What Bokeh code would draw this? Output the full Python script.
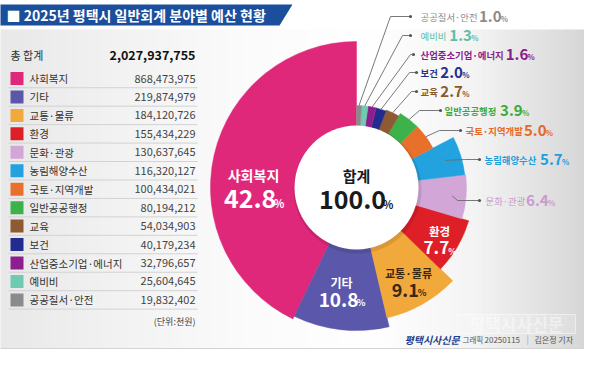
import math
import numpy as np
from bokeh.plotting import figure
from bokeh.models import Range1d, ColumnDataSource
from bokeh.core.properties import value
from bokeh.embed import file_html
from bokeh.resources import INLINE

# ---------------- data ----------------
title = "■  2025년 평택시 일반회계 분야별 예산 현황"
total_label = "총 합계"
total_amount = 2027937755
categories = ["사회복지", "기타", "교통·물류", "환경", "문화·관광", "농림해양수산",
              "국토·지역개발", "일반공공행정", "교육", "보건", "산업중소기업·에너지",
              "예비비", "공공질서·안전"]
amounts = [868473975, 219874979, 184120726, 155434229, 130637645, 116320127,
           100434021, 80194212, 54034903, 40179234, 32796657, 25604645, 19832402]
shares = [42.8, 10.8, 9.1, 7.7, 6.4, 5.7, 5.0, 3.9, 2.7, 2.0, 1.6, 1.3, 1.0]
unit_note = "(단위:천원)"
center_title = "합계"
center_value = "100.0"
credit_paper = "평택시사신문"
credit_parts = ["그래픽", "20250115", "|", "김은정 기자"]

# ---------------- style ----------------
colors = ["#e0287a", "#5b58ab", "#f2a93c", "#df1f27", "#d2a6d6", "#22a2de",
          "#e8702a", "#3db14a", "#8e5a33", "#212c8e", "#8d1e8e", "#6fcab2", "#8b8b8b"]
label_colors = ["#e0287a", "#5b58ab", "#f2a93c", "#df1f27", "#c89ccc", "#1f9fdc",
                "#e4692a", "#3aab3f", "#8b5a2b", "#23308f", "#8a1c8a", "#5cc0a5", "#8c8c8c"]
radii = [146, 143, 134, 117, 110, 109, 86, 86, 83, 82, 82, 82, 82]
FONT = value("Noto Sans CJK KR")
W, H = 584, 351

def Y(s):
    return 367 - s

def tw(s, size):
    w = 0.0
    for ch in s:
        if '\uac00' <= ch <= '\ud7a3':
            w += 0.95
        elif ch.isdigit():
            w += 0.56
        elif ch in '.,':
            w += 0.27
        elif ch == '·':
            w += 0.3
        elif ch == ' ':
            w += 0.22
        elif ch == '%':
            w += 0.85
        else:
            w += 0.55
    return w * size

p = figure(width=W, height=H, output_backend="svg", toolbar_location=None,
           x_range=Range1d(8, 592), y_range=Range1d(8, 359),
           x_axis_location=None, y_axis_location=None, min_border=0)
p.grid.visible = False
p.outline_line_color = None
p.background_fill_color = "white"
p.border_fill_color = "white"

# ---------------- background gradient ----------------
stops_x = [5, 120, 250, 380, 480, 595]
stops_g = [232, 242, 251, 255, 244, 214]
xs = np.arange(5, 595, 5)
lefts, rights, cols = [], [], []
for x0 in xs:
    g = int(np.interp(x0 + 2.5, stops_x, stops_g))
    lefts.append(x0)
    rights.append(x0 + 5.5)
    cols.append("#%02x%02x%02x" % (g, g, g))
p.quad(left=lefts, right=rights, bottom=Y(356), top=Y(37), fill_color=cols, line_color=None)
p.quad(left=[5], right=[595], bottom=[Y(356)], top=[Y(5)], fill_color=None, line_color="#d4d4d4", line_width=1)

# ---------------- title bar ----------------
p.patch([5, 300, 287, 5], [Y(12), Y(12), Y(33), Y(33)], fill_color="#1b4e9b", line_color=None)
p.text([14], [Y(22.5)], text=[title], text_font=FONT, text_font_size="14px",
       text_font_style="bold", text_color="white", text_baseline="middle")

# ---------------- table ----------------
p.text([18], [Y(62)], text=[total_label], text_font=FONT, text_font_size="11px",
       text_color="#333333", text_baseline="middle")
p.text([203], [Y(62)], text=["{:,}".format(total_amount)], text_font=FONT,
       text_font_size="12.5px", text_font_style="bold", text_color="#111111",
       text_baseline="middle", text_align="right")
row0, step = 86, 18.45
row_y = [Y(row0 + i * step) for i in range(len(categories))]
p.rect(x=[24.5] * len(categories), y=row_y, width=13, height=13, fill_color=colors, line_color=None)
p.text([37] * len(categories), row_y, text=categories, text_font=FONT, text_font_size="10.5px",
       text_color="#333333", text_baseline="middle")
p.text([203] * len(categories), row_y, text=["{:,}".format(a) for a in amounts], text_font=FONT,
       text_font_size="11px", text_color="#444444", text_baseline="middle", text_align="right")
sep_y = [Y(row0 + i * step + step / 2) for i in range(len(categories))]
p.segment(x0=[16] * len(sep_y), x1=[205] * len(sep_y), y0=sep_y, y1=sep_y, line_color="#d2d2d2", line_width=1)
p.text([203], [Y(329)], text=[unit_note], text_font=FONT, text_font_size="9px",
       text_color="#444444", text_baseline="middle", text_align="right")

# ---------------- donut ----------------
cx, cy = 364, Y(195)
tot = sum(amounts)
starts, ends = [], []
acc = 0.0
for a in amounts:
    s = math.pi / 2 + 2 * math.pi * acc / tot
    acc += a
    e = math.pi / 2 + 2 * math.pi * acc / tot
    starts.append(s)
    ends.append(e)
src = ColumnDataSource(dict(x=[cx] * len(amounts), y=[cy] * len(amounts), r=radii,
                            s=starts, e=ends, c=colors))
p.wedge(x="x", y="y", radius="r", start_angle="s", end_angle="e", fill_color="c",
        line_color="c", line_width=0.5, source=src)
p.circle([cx + 1], [cy - 2], radius=64, fill_color="#000000", fill_alpha=0.10, line_color=None)
p.circle([cx], [cy], radius=62, fill_color="white", line_color=None)

# center label
p.text([cx], [Y(183)], text=[center_title], text_font=FONT, text_font_size="15px",
       text_font_style="bold", text_color="#1a1a1a", text_align="center", text_baseline="middle")

def num_label(xc, yc, num, size, color, psize):
    wn = tw(num, size)
    wp = tw("%", psize)
    x0 = xc - (wn + wp + 1) / 2
    p.text([x0], [yc], text=[num], text_font=FONT, text_font_size="%gpx" % size,
           text_font_style="bold", text_color=color, text_baseline="middle")
    p.text([x0 + wn + 1], [yc - size * 0.18], text=["%"], text_font=FONT,
           text_font_size="%gpx" % psize, text_font_style="bold", text_color=color,
           text_baseline="middle")

num_label(cx - 1, Y(207), center_value, 25, "#1a1a1a", 11)

# inside-slice labels
inside = [(0, 261, 182, 14, 206, 25, 11, "white"),
          (1, 349, 290, 12, 307, 19, 9, "white"),
          (2, 416, 280, 11, 297, 18, 9, "#3b2712"),
          (3, 447, 238, 11.5, 255, 17, 8.5, "white")]
for i, xc, yn, sn, yv, sv, sp, col in inside:
    p.text([xc], [Y(yn)], text=[categories[i]], text_font=FONT, text_font_size="%gpx" % sn,
           text_font_style="bold", text_color=col, text_align="center", text_baseline="middle")
    num_label(xc, Y(yv), "%.1f" % shares[i], sv, col, sp)

# outside labels with leader lines: (index, label_y, elbow_x, dot_x, text_x, start_inset, bold)
outside = [(12, 24, 398, 418, 428, 0, False),
           (11, 43, 410, 418, 428, 0, False),
           (10, 62, 418, 421, 428, 0, True),
           (9, 80, 417, 424, 428, 0, True),
           (8, 99, 419, 424, 428, 0, True),
           (7, 118, 427, 448, 452, 0, True),
           (6, 138, 447, 468, 473, 0, True),
           (5, 167, 473, 487, 492, 16, True),
           (4, 208, 465, 487, 493, 14, False)]
for i, ly, ex, dx, tx, inset, bold in outside:
    mid = (starts[i] + ends[i]) / 2
    r0 = radii[i] - inset
    sx = cx + r0 * math.cos(mid)
    sy = cy + r0 * math.sin(mid)
    p.line([sx, ex, dx], [sy, Y(ly), Y(ly)], line_color="#6a6a6a", line_width=0.9)
    p.circle([dx], [Y(ly)], radius=1.6, fill_color="#555555", line_color=None)
    ns = 9.4
    p.text([tx], [Y(ly)], text=[categories[i]], text_font=FONT, text_font_size="%gpx" % ns,
           text_font_style="bold" if bold else "normal", text_color=label_colors[i],
           text_baseline="middle")
    nx = tx + tw(categories[i], ns) + 2
    num = "%.1f" % shares[i]
    p.text([nx], [Y(ly) + 0.5], text=[num], text_font=FONT, text_font_size="15px",
           text_font_style="bold", text_color=label_colors[i], text_baseline="middle")
    p.text([nx + tw(num, 15) + 1], [Y(ly) - 2], text=["%"], text_font=FONT, text_font_size="7.5px",
           text_font_style="bold", text_color=label_colors[i], text_baseline="middle")

# ---------------- footer ----------------
p.quad(left=[465], right=[583], bottom=[Y(341)], top=[Y(322)], fill_color="#ffffff",
       fill_alpha=0.15, line_color="#ffffff", line_alpha=0.5)
p.text([524], [Y(331)], text=[credit_paper], text_font=FONT, text_font_size="17px",
       text_font_style="bold", text_color="#ffffff", text_alpha=0.45, text_align="center",
       text_baseline="middle")
p.text([412], [Y(347)], text=[credit_paper], text_font=FONT, text_font_size="10px",
       text_font_style="bold italic", text_color="#1e3f8f", text_baseline="middle")
part_x = [470, 492, 534, 542]
part_sizes = [7.5, 8, 9, 8]
part_colors = ["#555555", "#555555", "#aaaaaa", "#555555"]
for t, x0, sz, c in zip(credit_parts, part_x, part_sizes, part_colors):
    p.text([x0], [Y(347)], text=[t], text_font=FONT, text_font_size="%gpx" % sz,
           text_color=c, text_baseline="middle")

open("out.html", "w").write(file_html(p, INLINE))
